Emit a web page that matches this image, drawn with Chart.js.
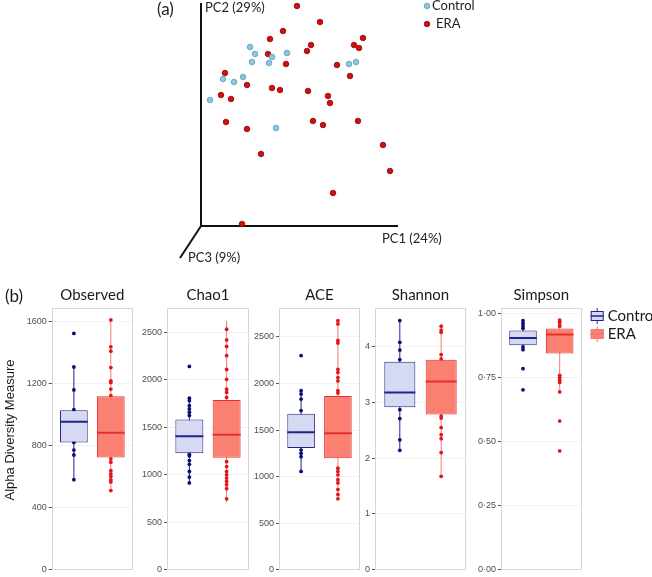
<!DOCTYPE html>
<html>
<head>
<meta charset="utf-8">
<script src="https://cdn.jsdelivr.net/npm/chart.js@4.4.0/dist/chart.umd.min.js"></script>
<style>
  body { margin: 0; background: #fff; }
  #wrap { position: relative; width: 652px; height: 577px; overflow: hidden; background: #fff; }
  #wrap canvas { position: absolute; }
</style>
</head>
<body>
<div id="wrap">
  <canvas id="pca" width="652" height="275" style="left:0;top:0"></canvas>
</div>
<script>
// (a) PCoA scores, PC1 / PC2 (arbitrary units from the axis corner)
const controlPC1 = [49, 54, 51, 71, 68, 86, 42, 33, 22, 9, 75, 148, 155];
const controlPC2 = [179, 172, 164, 169, 163, 173, 149, 144, 147, 126, 98, 162, 164];
const eraPC1 = [96, 119, 82, 69, 110, 106, 153, 162, 158, 67, 85, 136, 24, 46, 149, 71, 79, 107,
                20, 30, 127, 129, 25, 46, 112, 122, 157, 60, 182, 189, 132, 41];
const eraPC2 = [220, 204, 195, 187, 181, 175, 181, 188, 178, 172, 162, 161, 153, 141, 150, 138, 136, 135,
                131, 127, 130, 123, 104, 97, 105, 101, 105, 72, 81, 55, 33, 2];

// (b) alpha diversity, groups
const groups = ['Control', 'ERA'];

// Observed
const observedLow = [579, 509];
const observedQ1 = [819, 722];
const observedMedian = [953, 881];
const observedQ3 = [1027, 1116];
const observedHigh = [1305, 1608];
const observedControl = [1521, 1305, 1157, 1030, 819, 770, 738, 579];
const observedEra = [1608, 1435, 1407, 1301, 1216, 1205, 1163, 1120, 713, 692, 637, 617, 601, 579, 565, 509];
const observedTicks = [0, 400, 800, 1200, 1600];

// Chao1
const chao1Low = [913, 705];
const chao1Q1 = [1225, 1180];
const chao1Median = [1405, 1422];
const chao1Q3 = [1582, 1787];
const chao1High = [1807, 2622];
const chao1Control = [2141, 1807, 1780, 1728, 1693, 1659, 1624, 1214, 1200, 1149, 1110, 1034, 975, 913];
const chao1Era = [2533, 2421, 2352, 2255, 2109, 2005, 1901, 1867, 1815, 1138, 1086, 1034, 999, 965, 930, 895, 853, 746];
const chao1Ticks = [0, 500, 1000, 1500, 2000, 2500];

// ACE
const aceLow = [1048, 761];
const aceQ1 = [1306, 1196];
const aceMedian = [1476, 1465];
const aceQ3 = [1674, 1865];
const aceHigh = [1922, 2675];
const aceControl = [2300, 1922, 1886, 1833, 1709, 1284, 1249, 1214, 1055];
const aceEra = [2675, 2640, 2463, 2435, 2152, 2117, 2064, 2028, 1922, 1897, 1090, 1055, 1019, 966, 931, 860, 807, 761];
const aceTicks = [0, 500, 1000, 1500, 2000, 2500];

// Shannon
const shannonLow = [2.14, 1.674];
const shannonQ1 = [2.915, 2.784];
const shannonMedian = [3.18, 3.376];
const shannonQ3 = [3.73, 3.766];
const shannonHigh = [4.47, 4.374];
const shannonControl = [4.47, 4.08, 3.94, 3.77, 2.87, 2.71, 2.33, 2.14];
const shannonEra = [4.37, 4.30, 4.26, 3.86, 3.78, 2.755, 2.72, 2.55, 2.42, 2.35, 2.10, 1.674];
const shannonTicks = [0, 1, 2, 3, 4];

// Simpson
const simpsonLow = [0.860, 0.695];
const simpsonQ1 = [0.877, 0.845];
const simpsonMedian = [0.906, 0.920];
const simpsonQ3 = [0.935, 0.943];
const simpsonHigh = [0.974, 0.976];
const simpsonControl = [0.974, 0.964, 0.953, 0.944, 0.871, 0.860, 0.786, 0.703];
const simpsonEra = [0.976, 0.970, 0.962, 0.952, 0.760, 0.751, 0.741, 0.732, 0.695, 0.581, 0.464];
const simpsonTicks = [0, 0.25, 0.5, 0.75, 1];

const CTL_FILL = '#d5d9f1', CTL_LINE = '#23238a', CTL_DOT = '#0c0c7a';
const ERA_FILL = '#fa8072', ERA_LINE = '#e5302c', ERA_WHISK = '#f07a78', ERA_DOT = '#e3161b';

// ---------- (a) PCoA ----------
const pcaAxes = {
    id: 'pcaAxes',
    beforeDatasetsDraw(chart) {
        const { ctx, scales: { x, y } } = chart;
        const ox = x.getPixelForValue(0), oy = y.getPixelForValue(0);
        ctx.save();
        ctx.strokeStyle = '#111';
        ctx.lineWidth = 2;
        ctx.beginPath();
        ctx.moveTo(ox, y.getPixelForValue(223));
        ctx.lineTo(ox, oy);
        ctx.lineTo(x.getPixelForValue(197), oy);
        ctx.moveTo(ox, oy);
        ctx.lineTo(x.getPixelForValue(-21), y.getPixelForValue(-32));
        ctx.stroke();

        ctx.fillStyle = '#222';
        ctx.textBaseline = 'middle';
        ctx.font = '13px Lato';
        ctx.fillText('PC2 (29%)', ox + 4, oy - 218);
        ctx.fillText('PC1 (24%)', ox + 181, oy + 13);
        ctx.fillText('PC3 (9%)', ox - 13, oy + 32);
        ctx.font = '17px Lato';
        ctx.fillText('(a)', ox - 44, oy - 216);

        // legend
        ctx.font = '13px Lato';
        [['Control', '#8cc8e4', '#5b98b8'], ['ERA', '#d01010', '#950000']].forEach(([t, f, s], i) => {
            const lx = ox + 226, ly = oy - 220 + i * 18;
            ctx.beginPath();
            ctx.arc(lx, ly, 2.8, 0, Math.PI * 2);
            ctx.fillStyle = f; ctx.fill();
            ctx.lineWidth = 0.8; ctx.strokeStyle = s; ctx.stroke();
            ctx.fillStyle = '#222';
            ctx.fillText(t, lx + (i ? 9 : 5), ly);
        });
        ctx.restore();
    }
};

new Chart(document.getElementById('pca'), {
    type: 'scatter',
    data: {
        datasets: [
            {
                label: 'Control',
                data: controlPC1.map((v, i) => ({ x: v, y: controlPC2[i] })),
                backgroundColor: '#8cc8e4', borderColor: '#5b98b8', borderWidth: 0.8,
                pointRadius: 2.8, clip: false
            },
            {
                label: 'ERA',
                data: eraPC1.map((v, i) => ({ x: v, y: eraPC2[i] })),
                backgroundColor: '#d01010', borderColor: '#950000', borderWidth: 0.8,
                pointRadius: 2.8, clip: false
            }
        ]
    },
    options: {
        responsive: false,
        animation: false,
        layout: { padding: 0, autoPadding: false },
        plugins: { legend: { display: false }, tooltip: { enabled: false } },
        scales: {
            x: { type: 'linear', min: -201, max: 451, display: false },
            y: { type: 'linear', min: -49, max: 226, display: false }
        }
    },
    plugins: [pcaAxes]
});

// ---------- (b) box plots ----------
const panels = [
    { title: 'Observed', low: observedLow, q1: observedQ1, med: observedMedian, q3: observedQ3, high: observedHigh,
      ctl: observedControl, era: observedEra, ticks: observedTicks, max: 1683, left: 51.7, right: 133.3, first: true },
    { title: 'Chao1', low: chao1Low, q1: chao1Q1, med: chao1Median, q3: chao1Q3, high: chao1High,
      ctl: chao1Control, era: chao1Era, ticks: chao1Ticks, max: 2754, left: 166.7, right: 248.3 },
    { title: 'ACE', low: aceLow, q1: aceQ1, med: aceMedian, q3: aceQ3, high: aceHigh,
      ctl: aceControl, era: aceEra, ticks: aceTicks, max: 2808, left: 279.3, right: 360 },
    { title: 'Shannon', low: shannonLow, q1: shannonQ1, med: shannonMedian, q3: shannonQ3, high: shannonHigh,
      ctl: shannonControl, era: shannonEra, ticks: shannonTicks, max: 4.69, left: 375.3, right: 466 },
    { title: 'Simpson', low: simpsonLow, q1: simpsonQ1, med: simpsonMedian, q3: simpsonQ3, high: simpsonHigh,
      ctl: simpsonControl, era: simpsonEra, ticks: simpsonTicks, max: 1.022, left: 501, right: 581.7, last: true,
      fmt: v => v.toFixed(2).replace('.', '\u00b7') }
];

const PANEL_TOP = 308.3, PANEL_BOTTOM = 572.7, CANVAS_TOP = 280;
const HALF = 0.375; // half box width, in x units

function makePanel(p) {
    const canvasLeft = p.first ? 0 : p.left - 40;
    const canvasRight = p.last ? 652 : p.right + 2;
    const axisW = p.left - canvasLeft;
    const cv = document.createElement('canvas');
    cv.width = Math.round(canvasRight - canvasLeft);
    cv.height = 577 - CANVAS_TOP;
    cv.style.left = canvasLeft + 'px';
    cv.style.top = CANVAS_TOP + 'px';
    document.getElementById('wrap').appendChild(cv);

    const deco = {
        id: 'deco_' + p.title,
        afterDraw(chart) {
            const { ctx, chartArea: a } = chart;
            ctx.save();
            ctx.strokeStyle = '#d6d6d6';
            ctx.lineWidth = 1;
            ctx.strokeRect(Math.round(a.left) + 0.5, Math.round(a.top) + 0.5,
                Math.round(a.right - a.left) - 1, Math.round(a.bottom - a.top));
            ctx.fillStyle = '#1a1a1a';
            ctx.font = '15px Lato';
            ctx.textAlign = 'center';
            ctx.textBaseline = 'middle';
            ctx.fillText(p.title, (a.left + a.right) / 2, a.top - 13);
            if (p.first) {
                ctx.textAlign = 'left';
                ctx.font = '17px Lato';
                ctx.fillText('(b)', 5, 297 - CANVAS_TOP);
                ctx.save();
                ctx.translate(10, 430 - CANVAS_TOP);
                ctx.rotate(-Math.PI / 2);
                ctx.textAlign = 'center';
                ctx.font = '13px "Liberation Sans"';
                ctx.fillText('Alpha Diversity Measure', 0, 0);
                ctx.restore();
            }
            if (p.last) {
                const ix = 590.7 - canvasLeft;
                ctx.font = '15px Lato';
                ctx.textAlign = 'left';
                [[groups[0], CTL_FILL, CTL_LINE, 316], [groups[1], ERA_FILL, ERA_WHISK, 334]].forEach(([t, f, s, cy]) => {
                    const yy = cy - CANVAS_TOP;
                    ctx.strokeStyle = s;
                    ctx.lineWidth = 1;
                    ctx.beginPath();
                    ctx.moveTo(ix + 6.5, yy - 8); ctx.lineTo(ix + 6.5, yy + 8);
                    ctx.stroke();
                    ctx.fillStyle = f;
                    ctx.fillRect(ix, yy - 5, 13, 10);
                    ctx.strokeRect(ix + 0.5, yy - 4.5, 12, 9);
                    ctx.lineWidth = 1.5;
                    ctx.beginPath();
                    ctx.moveTo(ix, yy); ctx.lineTo(ix + 13, yy);
                    ctx.stroke();
                    ctx.fillStyle = '#1a1a1a';
                    ctx.fillText(t, 607.7 - canvasLeft, yy);
                });
            }
            ctx.restore();
        }
    };

    const line = (pts, color, width, order) => ({
        type: 'line', data: pts, borderColor: color, borderWidth: width,
        pointRadius: 0, tension: 0, fill: false, order
    });

    new Chart(cv, {
        type: 'bar',
        data: {
            datasets: [
                {
                    type: 'bar',
                    data: groups.map((g, i) => ({ x: i + 1, y: [p.q1[i], p.q3[i]] })),
                    backgroundColor: [CTL_FILL, ERA_FILL],
                    borderColor: [CTL_LINE, ERA_LINE],
                    borderWidth: 1, borderSkipped: false,
                    barPercentage: 0.75, categoryPercentage: 1, order: 1
                },
                line([{ x: 1, y: p.low[0] }, { x: 1, y: p.high[0] }], CTL_LINE, 1, 3),
                line([{ x: 2, y: p.low[1] }, { x: 2, y: p.high[1] }], ERA_WHISK, 1, 3),
                {
                    type: 'scatter', data: p.ctl.map(v => ({ x: 1, y: v })),
                    backgroundColor: CTL_DOT, borderWidth: 0, pointRadius: 1.9, order: 2
                },
                {
                    type: 'scatter', data: p.era.map(v => ({ x: 2, y: v })),
                    backgroundColor: ERA_DOT, borderWidth: 0, pointRadius: 1.9, order: 2
                },
                line([{ x: 1 - HALF, y: p.med[0] }, { x: 1 + HALF, y: p.med[0] }], CTL_LINE, 2, 0),
                line([{ x: 2 - HALF, y: p.med[1] }, { x: 2 + HALF, y: p.med[1] }], ERA_LINE, 2, 0)
            ]
        },
        options: {
            responsive: false,
            animation: false,
            layout: {
                autoPadding: false,
                padding: {
                    left: 0,
                    right: canvasRight - p.right,
                    top: PANEL_TOP - CANVAS_TOP,
                    bottom: 577 - PANEL_BOTTOM
                }
            },
            plugins: { legend: { display: false }, tooltip: { enabled: false } },
            scales: {
                x: {
                    type: 'linear', min: 0.4, max: 2.6, display: false, offset: false,
                    grid: { offset: false },
                    afterBuildTicks: s => { s.ticks = [{ value: 1 }, { value: 2 }]; }
                },
                y: {
                    type: 'linear', min: 0, max: p.max,
                    afterBuildTicks: s => { s.ticks = p.ticks.map(v => ({ value: v })); },
                    afterFit: s => { s.width = axisW; },
                    border: { display: false },
                    grid: { color: '#f3f3f3', tickColor: '#555', tickLength: 3, lineWidth: 1 },
                    ticks: {
                        color: '#4d4d4d', padding: 2,
                        font: { family: '"Liberation Sans"', size: 9 },
                        callback: v => p.fmt ? p.fmt(v) : String(v)
                    }
                }
            }
        },
        plugins: [deco]
    });
}

panels.forEach(makePanel);
</script>
</body>
</html>
